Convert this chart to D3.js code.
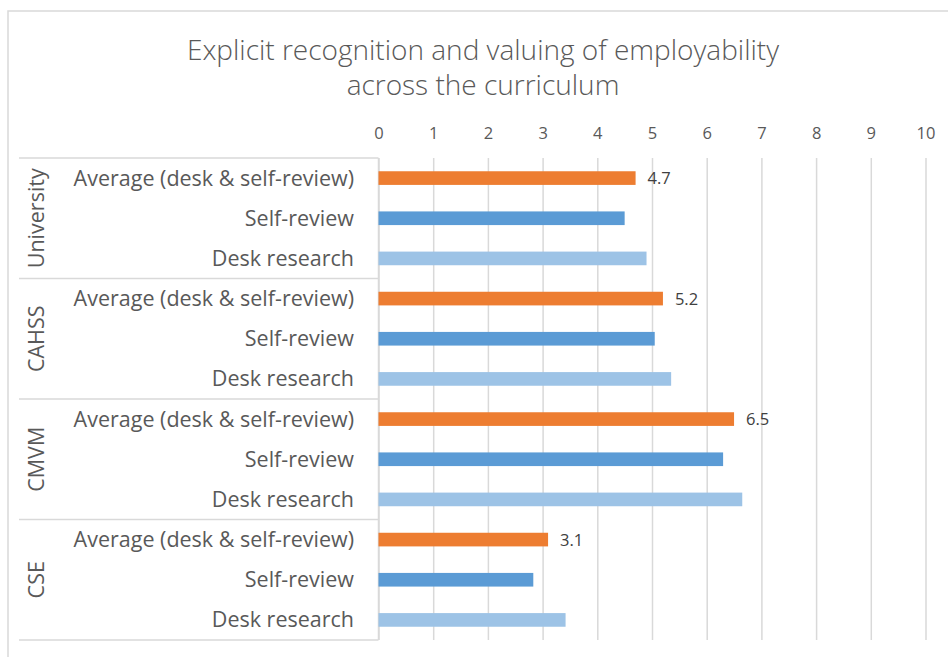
<!DOCTYPE html>
<html>
<head>
<meta charset="utf-8">
<script src="https://cdn.jsdelivr.net/npm/d3@7"></script>
<style>
  html, body { margin: 0; padding: 0; background: #ffffff; }
  svg { display: block; font-family: "Open Sans", "Noto Sans", sans-serif; }
</style>
</head>
<body>
<svg id="chart" width="948" height="657"></svg>
<script>
// Groups (top to bottom) and the three measures shown within each group
const groups = ["University", "CAHSS", "CMVM", "CSE"];
const measures = ["Average (desk & self-review)", "Self-review", "Desk research"];

// Scores per group, in the order of `groups`
const averageScores = [4.7, 5.2, 6.5, 3.1];
const selfReviewScores = [4.5, 5.05, 6.3, 2.83];
const deskResearchScores = [4.9, 5.35, 6.65, 3.42];

const xTicks = [0, 1, 2, 3, 4, 5, 6, 7, 8, 9, 10];
const titleLines = ["Explicit recognition and valuing of employability", "across the curriculum"];

const colors = {
  "Average (desk & self-review)": "#ED7D31",
  "Self-review": "#5B9BD5",
  "Desk research": "#9DC3E6"
};

const seriesValues = {
  "Average (desk & self-review)": averageScores,
  "Self-review": selfReviewScores,
  "Desk research": deskResearchScores
};

// Flatten into one row per group × measure
const rows = [];
groups.forEach((g, gi) => {
  measures.forEach(m => {
    rows.push({ group: g, measure: m, key: g + "|" + m, value: seriesValues[m][gi] });
  });
});

const svg = d3.select("#chart");
const textColor = "#595959";
const lineColor = "#D9D9D9";

const plot = { left: 378.5, right: 925.5, top: 158, bottom: 640 };
const labelBoxLeft = 19;

const x = d3.scaleLinear().domain([0, 10]).range([plot.left, plot.right]);
const yGroup = d3.scaleBand().domain(groups).range([plot.top, plot.bottom]);
const y = d3.scaleBand().domain(rows.map(r => r.key)).range([plot.top, plot.bottom])
  .paddingInner(0.66).paddingOuter(0.33);

// Chart frame
svg.append("rect")
  .attr("x", 8).attr("y", 11).attr("width", 980).attr("height", 700)
  .attr("fill", "none").attr("stroke", lineColor).attr("stroke-width", 1.5);

// Title
svg.append("g").selectAll("text").data(titleLines).join("text")
  .attr("x", 483).attr("y", (d, i) => 60 + i * 34.5)
  .attr("text-anchor", "middle")
  .attr("fill", textColor)
  .attr("font-size", 28)
  .attr("font-weight", 300)
  .text(d => d);

// Vertical gridlines with tick labels on top
const xAxis = d3.axisTop(x).tickValues(xTicks).tickFormat(d3.format("d"))
  .tickSize(-(plot.bottom - plot.top)).tickPadding(0);
const gx = svg.append("g").attr("transform", `translate(0,${plot.top})`).call(xAxis);
gx.select(".domain").remove();
gx.selectAll(".tick line").attr("stroke", lineColor).attr("stroke-width", 1.5);
gx.selectAll(".tick text")
  .attr("y", -19)
  .attr("fill", textColor)
  .attr("font-size", 16.5)
  .attr("font-family", "Open Sans, sans-serif");

// Group boxes on the category axis
const gBox = svg.append("g");
const separators = groups.map(g => yGroup(g)).concat([plot.bottom]);
gBox.selectAll("line.sep").data(separators).join("line")
  .attr("class", "sep")
  .attr("x1", labelBoxLeft).attr("x2", plot.left)
  .attr("y1", d => d).attr("y2", d => d)
  .attr("stroke", lineColor).attr("stroke-width", 1.5);
gBox.append("line")
  .attr("x1", plot.left).attr("x2", plot.left)
  .attr("y1", plot.top).attr("y2", plot.bottom)
  .attr("stroke", lineColor).attr("stroke-width", 1.5);

// Rotated group names
gBox.selectAll("text.group").data(groups).join("text")
  .attr("class", "group")
  .attr("transform", d => `translate(44,${yGroup(d) + yGroup.bandwidth() / 2}) rotate(-90)`)
  .attr("text-anchor", "middle")
  .attr("fill", textColor)
  .attr("font-size", 21.5)
  .text(d => d);

// Measure labels
svg.append("g").selectAll("text").data(rows).join("text")
  .attr("x", 354)
  .attr("y", d => y(d.key) + y.bandwidth() / 2 + 7.5)
  .attr("text-anchor", "end")
  .attr("fill", textColor)
  .attr("font-size", 21.5)
  .text(d => d.measure);

// Bars
svg.append("g").selectAll("rect").data(rows).join("rect")
  .attr("x", x(0))
  .attr("y", d => y(d.key))
  .attr("width", d => x(d.value) - x(0))
  .attr("height", y.bandwidth())
  .attr("fill", d => colors[d.measure]);

// Value labels on the average bars
svg.append("g").selectAll("text")
  .data(rows.filter(r => r.measure === measures[0]))
  .join("text")
  .attr("x", d => x(d.value) + 12)
  .attr("y", d => y(d.key) + y.bandwidth() / 2 + 6)
  .attr("fill", "#404040")
  .attr("font-size", 16.5)
  .text(d => d3.format(".1f")(d.value));
</script>
</body>
</html>
